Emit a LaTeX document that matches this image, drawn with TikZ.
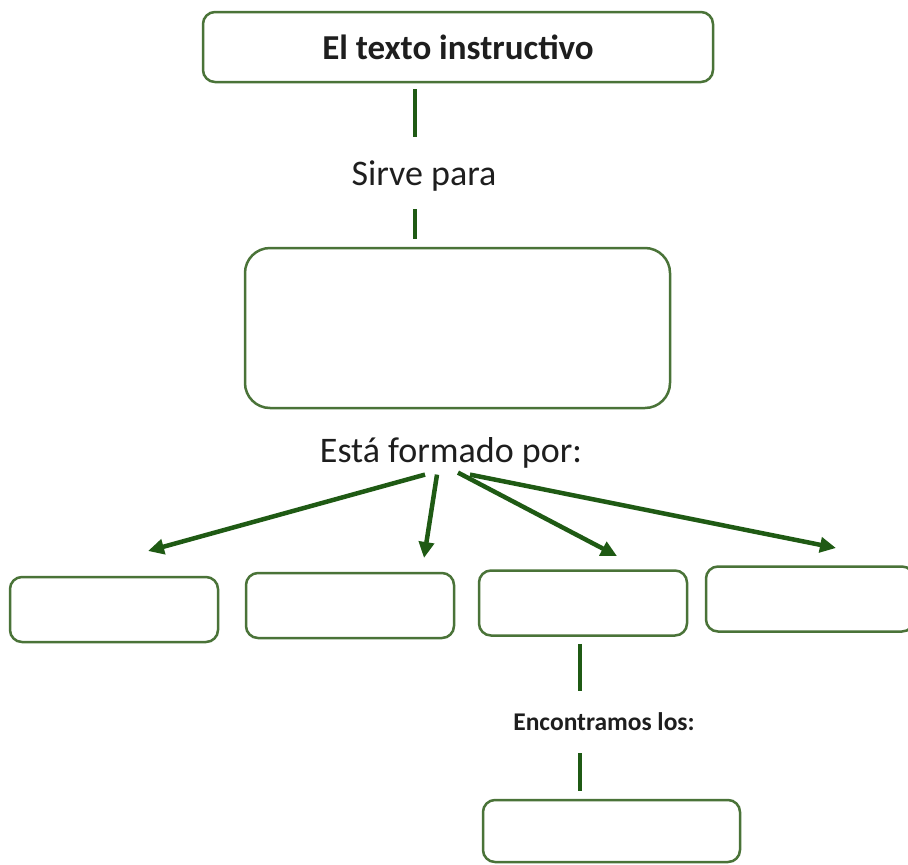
\documentclass[tikz,border=0pt]{standalone}
\usepackage{fontspec}
\setmainfont{Carlito}
\usepackage{tikz}
\usetikzlibrary{arrows.meta}
\definecolor{mapBorder}{HTML}{4A7338}
\definecolor{mapLine}{HTML}{1F5A14}
\definecolor{mapText}{HTML}{1E1E1E}
\tikzset{
  mapbox/.style={
    draw=mapBorder, line width=2.5pt, rounded corners=12pt, fill=white,
    inner sep=0pt, text=mapText
  },
  partbox/.style={mapbox, minimum width=208pt, minimum height=65pt},
  linklabel/.style={text=mapText, inner sep=2pt, font=\fontsize{36}{42}\selectfont},
  link/.style={mapLine, line width=4pt},
  branch/.style={-{Triangle[length=16pt, width=15pt]}, mapLine, line width=4.5pt}
}
\begin{document}
\begin{tikzpicture}[x=1pt, y=-1pt]
  \useasboundingbox (0,0) rectangle (908,865);
  % top of the map
  \node[mapbox, minimum width=510pt, minimum height=70pt, font=\fontsize{35}{40}\selectfont\bfseries] (title) at (458,47) {El texto instructivo};
  \node[linklabel] (sirve) at (424,176) {Sirve para};
  \node[mapbox, rounded corners=25pt, minimum width=425pt, minimum height=160pt] (purpose) at (457.5,328) {};
  \draw[link, shorten <=6pt, shorten >=22pt] ([xshift=-9pt]sirve.north |- title.south) -- ([xshift=-9pt]sirve.north);
  \draw[link, shorten <=16pt, shorten >=8pt] ([xshift=-9pt]sirve.south) -- ([xshift=-9pt]sirve.south |- purpose.north);
  % parts
  \node[linklabel] (formado) at (451,453) {Está formado por:};
  \node[partbox] (p1) at (114,609.5) {};
  \node[partbox] (p2) at (350,605.5) {};
  \node[partbox] (p3) at (583,603) {};
  \node[partbox] (p4) at (810,599) {};
  \coordinate (a1) at (148,551);
  \coordinate (a2) at (424,558);
  \coordinate (a3) at (617,556);
  \coordinate (a4) at (836,548);
  \draw[branch] ([xshift=-26pt, yshift=-4pt]formado.south) -- (a1);
  \draw[branch] ([xshift=-14pt, yshift=-4pt]formado.south) -- (a2);
  \draw[branch] ([xshift=7pt, yshift=-2pt]formado.south) -- (a3);
  \draw[branch] ([xshift=19pt, yshift=-4pt]formado.south) -- (a4);
  % below the third part
  \node[linklabel, font=\fontsize{25.5}{30}\selectfont\bfseries] (encontramos) at (604,722) {Encontramos los:};
  \node[mapbox, minimum width=257pt, minimum height=62pt] (items) at (611.5,831) {};
  \draw[link, shorten <=7pt, shorten >=20pt] (p3.south -| 580,0) -- (encontramos.north -| 580,0);
  \draw[link, shorten <=20pt, shorten >=8pt] (encontramos.south -| 580,0) -- (items.north -| 580,0);
\end{tikzpicture}
\end{document}
